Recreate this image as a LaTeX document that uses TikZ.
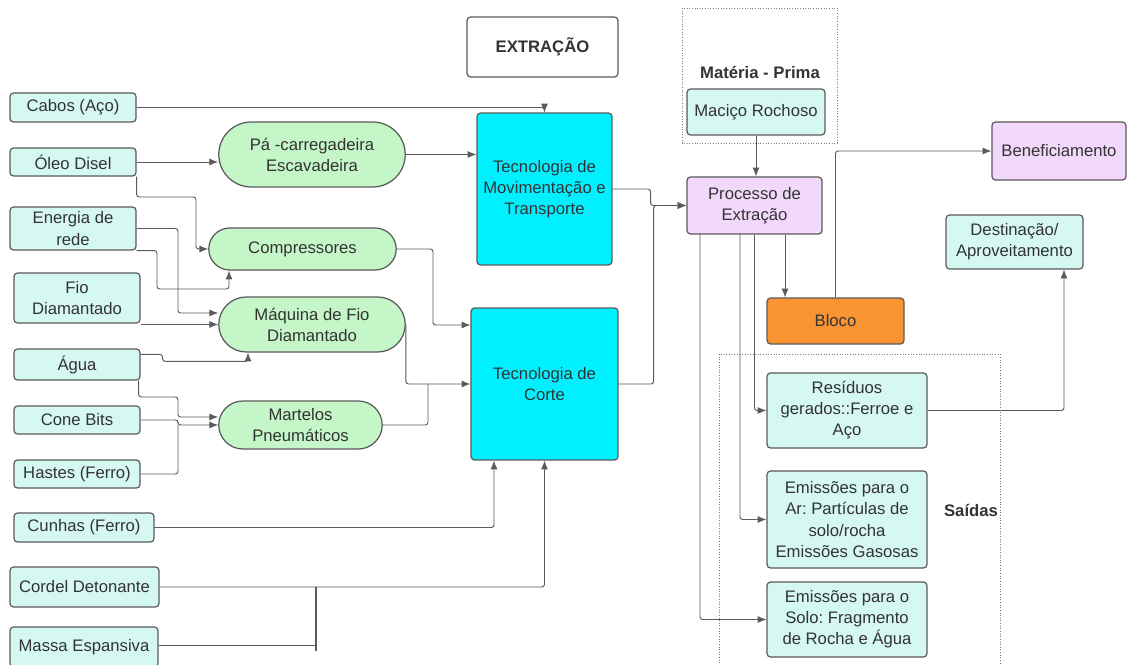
\documentclass[tikz,border=0pt]{standalone}
\usepackage{fontspec}
\setmainfont{Liberation Sans}
\usepackage{tikz}
\usetikzlibrary{arrows.meta,shapes.misc}
\definecolor{inputfill}{RGB}{214,248,242}
\definecolor{machfill}{RGB}{196,246,199}
\definecolor{techfill}{RGB}{0,240,255}
\definecolor{procfill}{RGB}{242,216,251}
\definecolor{blockfill}{RGB}{250,148,50}
\definecolor{edgegray}{RGB}{90,90,90}
\definecolor{textgray}{RGB}{51,51,51}
\frenchspacing

\begin{document}
\begin{tikzpicture}[x=0.02cm,y=-0.02cm,
  every node/.style={font=\fontsize{9.5}{12}\selectfont, text=textgray, align=center, inner sep=1pt},
  box/.style={draw=edgegray, line width=0.7pt, rounded corners=2pt},
  inbox/.style={box, fill=inputfill},
  machine/.style={draw=edgegray, line width=0.7pt, fill=machfill, rounded rectangle},
  techbox/.style={box, fill=techfill},
  procbox/.style={box, fill=procfill},
  conn/.style={draw=edgegray, line width=0.55pt, rounded corners=1.5pt, -{Latex[length=5pt,width=4pt]}},
  group/.style={draw=gray, densely dotted, line width=0.5pt}]
\useasboundingbox[fill=white] (0,0) rectangle (1127,665);

% groups
\draw[group] (682,8) rectangle (837,143);
\draw[group] (719,354) rectangle (1000,670);
\node[font=\fontsize{9.5}{12}\selectfont\bfseries] (mplabel) at (760,72) {Matéria - Prima};
\node[font=\fontsize{9.5}{12}\selectfont\bfseries] (saidas) at (971,510) {Saídas};

% title
\node[box, fill=white, minimum width=3.02cm, minimum height=1.2cm, font=\fontsize{9.5}{12}\selectfont\bfseries] (title) at (542.5,47) {EXTRAÇÃO};

% inputs
\node[inbox, minimum width=2.52cm, minimum height=0.58cm] (cabos) at (73,107.5) {Cabos (Aço)};
\node[inbox, minimum width=2.52cm, minimum height=0.56cm] (oleo) at (73,162) {Óleo Disel};
\node[inbox, minimum width=2.52cm, minimum height=0.86cm] (energia) at (73,228.5) {Energia de\\rede};
\node[inbox, minimum width=2.52cm, minimum height=1.0cm] (fio) at (77,298) {Fio\\Diamantado};
\node[inbox, minimum width=2.52cm, minimum height=0.62cm] (agua) at (77,364.5) {Água};
\node[inbox, minimum width=2.52cm, minimum height=0.56cm] (cone) at (77,420) {Cone Bits};
\node[inbox, minimum width=2.52cm, minimum height=0.56cm] (hastes) at (77,474) {Hastes (Ferro)};
\node[inbox, minimum width=2.8cm, minimum height=0.58cm] (cunhas) at (84,527.5) {Cunhas (Ferro)};
\node[inbox, minimum width=2.98cm, minimum height=0.8cm] (cordel) at (84.5,587) {Cordel Detonante};
\node[inbox, minimum width=2.96cm, minimum height=0.8cm] (massa) at (84,647) {Massa Espansiva};

% machines
\node[machine, minimum width=3.8cm, minimum height=1.3cm] (pa) at (312,154.5) {Pá -carregadeira\\Escavadeira};
\node[machine, minimum width=3.82cm, minimum height=0.84cm] (comp) at (302.5,249) {Compressores};
\node[machine, minimum width=3.8cm, minimum height=1.1cm] (maq) at (312,324.5) {Máquina de Fio\\Diamantado};
\node[machine, minimum width=3.34cm, minimum height=0.96cm] (mart) at (300.5,425) {Martelos\\Pneumáticos};

% technologies
\node[techbox, minimum width=2.7cm, minimum height=3.04cm] (tecmov) at (544.5,189) {Tecnologia de\\Movimentação e\\Transporte};
\node[techbox, minimum width=2.94cm, minimum height=3.04cm] (teccorte) at (544.5,384) {Tecnologia de\\Corte};

% process
\node[inbox, minimum width=2.76cm, minimum height=0.92cm] (macico) at (756,112) {Maciço Rochoso};
\node[procbox, minimum width=2.7cm, minimum height=1.14cm] (processo) at (754.5,205.5) {Processo de\\Extração};
\node[box, fill=blockfill, minimum width=2.74cm, minimum height=0.92cm] (bloco) at (835.5,321) {Bloco};
\node[procbox, minimum width=2.68cm, minimum height=1.16cm] (benef) at (1059,151) {Beneficiamento};
\node[inbox, minimum width=2.74cm, minimum height=1.08cm] (dest) at (1014.5,242) {Destinação/\\Aproveitamento};

% outputs
\node[inbox, minimum width=3.2cm, minimum height=1.5cm] (resid) at (847,410.5) {Resíduos\\gerados::Ferroe e\\Aço};
\node[inbox, minimum width=3.2cm, minimum height=1.94cm] (ar) at (847,519.5) {Emissões para o\\Ar: Partículas de\\solo/rocha\\Emissões Gasosas};
\node[inbox, minimum width=3.2cm, minimum height=1.5cm] (solo) at (847,619.5) {Emissões para o\\Solo: Fragmento\\de Rocha e Água};

% connectors
\draw[conn] (cabos.east) -| (tecmov.north);
\draw[conn] (oleo.east) -- (oleo.east -| pa.west);
\draw[conn] (oleo.south east) |- (196,197) |- (comp.west);
\draw[conn] (pa.east) -- (pa.east -| tecmov.west);
\draw[conn] (energia.east) -| (178,313) -- (maq.west |- 178,313);
\draw[conn] (energia.south east) -| (157,289) -| (comp.south -| 229,0);
\draw[conn] (fio.south east |- maq.west) -- (maq.west);
\draw[conn] (agua.north east) ++(0,6) -- ++(22,0) -- ++(0,7) -| (maq.south -| 248,0);
\draw[conn] (agua.south east) ++(-2,0) |- (178,397) |- (mart.west |- 0,417);
\draw[conn] (cone.east) -| (178,425) -- (mart.west);
\draw (hastes.east) [draw=edgegray, line width=0.55pt, rounded corners=1.5pt] -| (178,425);
\draw[conn] (cunhas.east) -| (teccorte.south -| 494,0);
\draw[conn] (cordel.east) -| (teccorte.south);
\draw[draw=edgegray, line width=0.55pt] (massa.east |- 0,645) -- (316,645);
\draw[draw=edgegray, line width=0.8pt] (cordel.east -| 316,0) -- (316,651);
\draw[conn] (comp.east) -| (433,325) -- (teccorte.west |- 0,325);
\draw[conn] (maq.east) |- (teccorte.west);
\draw[draw=edgegray, line width=0.55pt, rounded corners=1.5pt] (mart.east) -| (428,384);
\draw[conn] (tecmov.east) -- ++(38,0) |- (processo.west);
\draw[conn] (teccorte.east) -- ++(35,0) |- (processo.west);
\draw[conn] (macico.south) -- (macico.south |- processo.north);
\draw[conn] (processo.south -| 785,0) -- (bloco.north -| 785,0);
\draw[conn] (bloco.north) |- (benef.west);
\draw[conn] (processo.south) |- (resid.west);
\draw[conn] (processo.south -| 740,0) |- (ar.west);
\draw[conn] (processo.south -| 700,0) |- (solo.west);
\draw[conn] (resid.east) -| (dest.south -| 1064,0);
\end{tikzpicture}
\end{document}
